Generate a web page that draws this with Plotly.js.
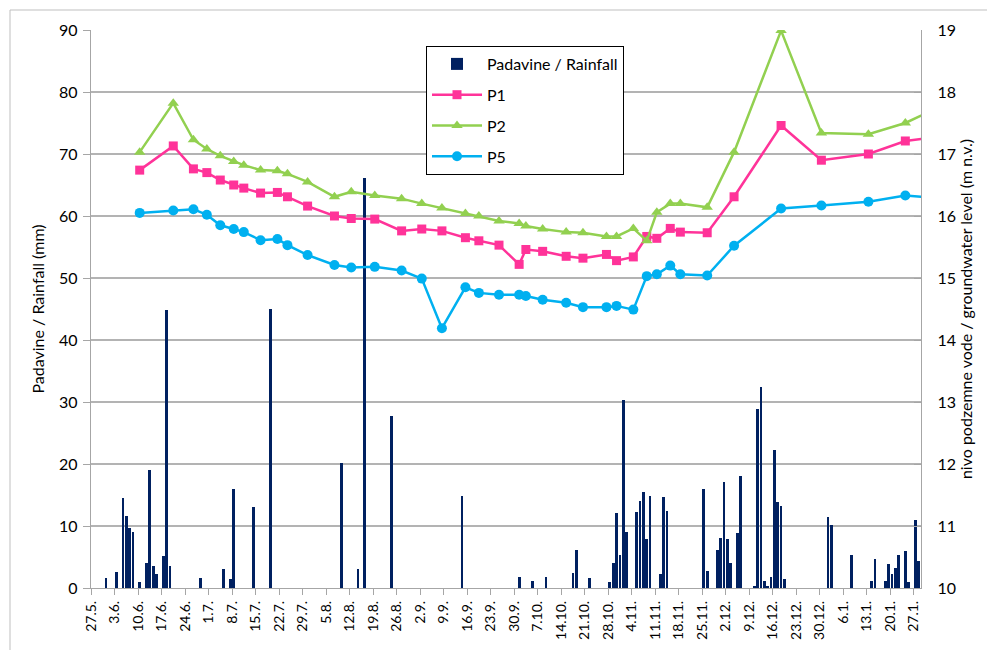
<!DOCTYPE html>
<html>
<head>
<meta charset="utf-8">
<script src="https://cdn.plot.ly/plotly-3.0.1.min.js"></script>
<style>
  html, body { margin: 0; padding: 0; background: #ffffff; }
  #chart { width: 987px; height: 650px; }
</style>
</head>
<body>
<div id="chart"></div>
<script>
// Daily rainfall (mm)
const rainDates = [
  "2013-05-31","2013-06-03","2013-06-05","2013-06-06","2013-06-07","2013-06-08","2013-06-10",
  "2013-06-12","2013-06-13","2013-06-14","2013-06-15","2013-06-17","2013-06-18","2013-06-19",
  "2013-06-28","2013-07-05","2013-07-07","2013-07-08","2013-07-14","2013-07-19",
  "2013-08-09","2013-08-14","2013-08-16","2013-08-24","2013-09-14",
  "2013-10-01","2013-10-05","2013-10-09","2013-10-17","2013-10-18","2013-10-22",
  "2013-10-28","2013-10-29","2013-10-30","2013-10-31","2013-11-01","2013-11-02",
  "2013-11-05","2013-11-06","2013-11-07","2013-11-08","2013-11-09",
  "2013-11-12","2013-11-13","2013-11-14","2013-11-25","2013-11-26",
  "2013-11-29","2013-11-30","2013-12-01","2013-12-02","2013-12-03","2013-12-05","2013-12-06",
  "2013-12-10","2013-12-11","2013-12-12","2013-12-13","2013-12-14","2013-12-15",
  "2013-12-16","2013-12-17","2013-12-18","2013-12-19",
  "2014-01-01","2014-01-02","2014-01-08","2014-01-14","2014-01-15",
  "2014-01-18","2014-01-19","2014-01-20","2014-01-21","2014-01-22",
  "2014-01-24","2014-01-25","2014-01-27","2014-01-28"
];
const rainValues = [
  1.6, 2.6, 14.5, 11.6, 9.6, 9.1, 0.9,
  4.1, 19.0, 3.6, 2.2, 5.1, 44.9, 3.6,
  1.6, 3.1, 1.5, 15.9, 13.1, 45.0,
  20.1, 3.1, 66.1, 27.7, 14.9,
  1.7, 1.1, 1.8, 2.5, 6.1, 1.6,
  0.9, 4.1, 12.1, 5.4, 30.3, 9.1,
  12.2, 14.0, 15.5, 7.9, 14.9,
  2.2, 14.6, 12.5, 15.9, 2.7,
  6.2, 8.0, 17.1, 7.9, 4.0, 8.8, 18.0,
  0.4, 28.8, 32.5, 1.1, 0.3, 1.8,
  22.3, 13.8, 13.2, 1.4,
  11.5, 10.1, 5.4, 1.1, 4.6,
  1.2, 3.8, 2.2, 3.3, 5.3,
  5.9, 1.0, 10.9, 4.3
];

// Groundwater level measurements (m n.v.)
const levelDates = [
  "2013-06-10","2013-06-20","2013-06-26","2013-06-30","2013-07-04","2013-07-08","2013-07-11",
  "2013-07-16","2013-07-21","2013-07-24","2013-07-30","2013-08-07","2013-08-12","2013-08-19",
  "2013-08-27","2013-09-02","2013-09-08","2013-09-15","2013-09-19","2013-09-25",
  "2013-10-01","2013-10-03","2013-10-08","2013-10-15","2013-10-20","2013-10-27","2013-10-30",
  "2013-11-04","2013-11-08","2013-11-11","2013-11-15","2013-11-18","2013-11-26",
  "2013-12-04","2013-12-18","2013-12-30","2014-01-13","2014-01-24","2014-01-31"
];
const p1Values = [
  16.74, 17.13, 16.76, 16.70, 16.58, 16.50, 16.45,
  16.37, 16.38, 16.31, 16.16, 16.00, 15.96, 15.95,
  15.76, 15.79, 15.76, 15.65, 15.60, 15.53,
  15.22, 15.46, 15.43, 15.35, 15.32, 15.38, 15.28,
  15.34, 15.67, 15.64, 15.80, 15.74, 15.73,
  16.31, 17.46, 16.90, 17.00, 17.21, 17.26
];
const p2Values = [
  17.03, 17.82, 17.23, 17.08, 16.97, 16.88, 16.82,
  16.74, 16.73, 16.68, 16.55, 16.31, 16.39, 16.33,
  16.28, 16.20, 16.13, 16.04, 16.00, 15.92,
  15.88, 15.84, 15.79, 15.74, 15.73, 15.67, 15.67,
  15.80, 15.60, 16.06, 16.20, 16.20, 16.14,
  17.03, 18.99, 17.34, 17.32, 17.50, 17.68
];
const p5Values = [
  16.05, 16.09, 16.11, 16.02, 15.85, 15.79, 15.74,
  15.61, 15.63, 15.53, 15.37, 15.21, 15.17, 15.18,
  15.12, 14.99, 14.19, 14.85, 14.76, 14.73,
  14.73, 14.71, 14.65, 14.60, 14.53, 14.53, 14.55,
  14.49, 15.03, 15.06, 15.20, 15.06, 15.04,
  15.52, 16.12, 16.17, 16.23, 16.33, 16.30
];

const seriesNames = ["Padavine / Rainfall", "P1", "P2", "P5"];
const leftTitle = "Padavine / Rainfall (mm)";
const rightTitle = "nivo podzemne vode / groundwater level (m n.v.)";

// each daily value is drawn in the middle of its day slot
const mid = d => d + " 12:00";
const DAY = 86400000;
const FONT = "Lato, 'Open Sans', sans-serif";

const traces = [
  {
    type: "bar", name: seriesNames[0], legendgroup: "g0",
    x: rainDates.map(mid), y: rainValues, yaxis: "y",
    width: 0.82 * DAY,
    marker: { color: "#002060", line: { width: 0 } }
  },
  {
    type: "scatter", mode: "lines+markers", name: seriesNames[1], legendgroup: "g1",
    x: levelDates.map(mid), y: p1Values, yaxis: "y2",
    line: { color: "#FF3399", width: 2.5 },
    marker: { symbol: "square", size: 9, color: "#FF3399" }
  },
  {
    type: "scatter", mode: "lines+markers", name: seriesNames[2], legendgroup: "g2",
    x: levelDates.map(mid), y: p2Values, yaxis: "y2",
    line: { color: "#92D050", width: 2.5 },
    marker: { symbol: "triangle-up", size: 10, color: "#92D050" }
  },
  {
    type: "scatter", mode: "lines+markers", name: seriesNames[3], legendgroup: "g3",
    x: levelDates.map(mid), y: p5Values, yaxis: "y2",
    line: { color: "#00B0F0", width: 2.5 },
    marker: { symbol: "circle", size: 10, color: "#00B0F0" }
  }
];

const L = 91, R = 66, T = 30, B = 62;
const pw = 987 - L - R, ph = 650 - T - B;
const px = v => (v - L) / pw;
const py = v => (650 - B - v) / ph;

const layout = {
  width: 987, height: 650,
  margin: { l: L, r: R, t: T, b: B },
  paper_bgcolor: "#ffffff",
  plot_bgcolor: "#ffffff",
  font: { family: FONT, size: 15, color: "#000000" },
  showlegend: true,
  bargap: 0,
  xaxis: {
    type: "date",
    range: ["2013-05-27", "2014-01-29 04:00"],
    tick0: "2013-05-27", dtick: 7 * DAY,
    tickformat: "%-d.%-m.",
    tickangle: -90,
    tickfont: { family: FONT, size: 14, color: "#000000" },
    ticks: "outside", ticklen: 6, tickcolor: "#a6a6a6", tickwidth: 1,
    showgrid: false,
    showline: true, linecolor: "#a6a6a6", linewidth: 1.3,
    zeroline: false
  },
  yaxis: {
    range: [0, 90], dtick: 10,
    title: { text: leftTitle, font: { family: FONT, size: 16, color: "#000000" }, standoff: 10 },
    tickfont: { family: FONT, size: 16, color: "#000000" },
    ticks: "outside", ticklen: 7, tickcolor: "#a6a6a6", tickwidth: 1,
    ticklabelstandoff: 2,
    showgrid: true, gridcolor: "#b3b3b3", gridwidth: 1.3,
    showline: true, linecolor: "#a6a6a6", linewidth: 1.3,
    zeroline: false
  },
  yaxis2: {
    overlaying: "y", side: "right",
    range: [10, 19], dtick: 1,
    title: { text: rightTitle, font: { family: FONT, size: 16, color: "#000000" }, standoff: 2 },
    tickfont: { family: FONT, size: 16, color: "#000000" },
    ticks: "inside", ticklen: 7, tickcolor: "#a6a6a6", tickwidth: 1,
    ticklabelstandoff: 12,
    showgrid: false,
    showline: true, linecolor: "#a6a6a6", linewidth: 1.3,
    zeroline: false
  },
  legend: {
    x: px(426), y: py(46), xanchor: "left", yanchor: "top",
    bgcolor: "#ffffff", bordercolor: "#000000", borderwidth: 1,
    font: { family: FONT, size: 16, color: "#000000" },
    traceorder: "grouped",
    tracegroupgap: 7,
    itemwidth: 50
  },
  shapes: [
    { type: "rect", xref: "paper", yref: "paper", layer: "below",
      x0: px(10), x1: px(1005), y0: py(10), y1: py(670),
      line: { color: "#bfbfbf", width: 1 }, fillcolor: "rgba(0,0,0,0)" }
  ]
};

Plotly.newPlot("chart", traces, layout, { displayModeBar: false, staticPlot: true });
</script>
</body>
</html>
